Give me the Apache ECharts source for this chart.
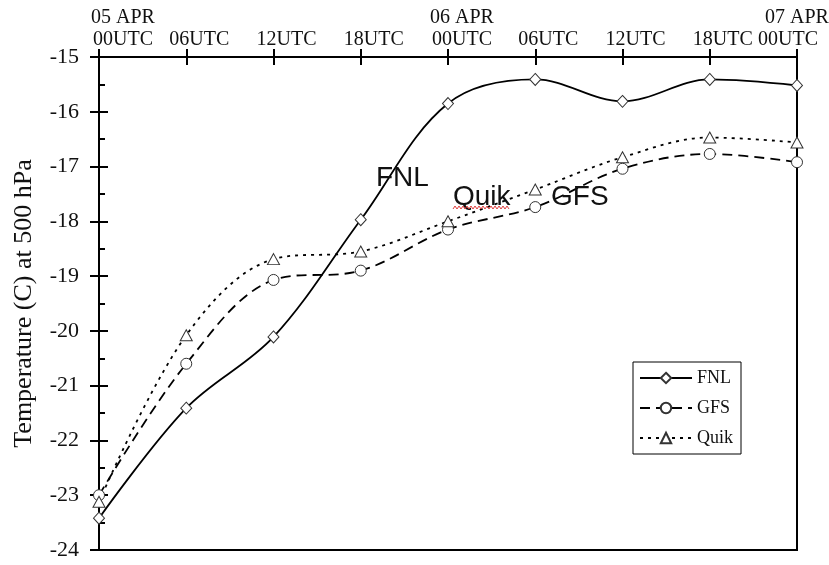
<!DOCTYPE html>
<html>
<head>
<meta charset="utf-8">
<script src="https://cdn.jsdelivr.net/npm/echarts@6/dist/echarts.min.js"></script>
<style>
html,body{margin:0;padding:0;background:#fff;}
#chart{width:829px;height:565px;}
</style>
</head>
<body>
<div id="chart"></div>
<script>
// ---- data ----
const timeLabels = ['05 APR\n00UTC','06UTC','12UTC','18UTC','06 APR\n00UTC','06UTC','12UTC','18UTC','07 APR\n00UTC'];
const fnlValues  = [-23.42, -21.41, -20.11, -17.97, -15.85, -15.41, -15.81, -15.41, -15.52];
const gfsValues  = [-23.00, -20.60, -19.07, -18.90, -18.15, -17.74, -17.04, -16.77, -16.92];
const quikValues = [-23.12, -20.08, -18.69, -18.55, -18.00, -17.42, -16.83, -16.47, -16.56];
const seriesNames = ['FNL', 'GFS', 'Quik'];
const yMin = -24, yMax = -15, yStep = 1;
const yTitle = 'Temperature (C) at 500 hPa';

const serif = 'Liberation Serif';
const chart = echarts.init(document.getElementById('chart'));

const labelBase = {fontFamily: serif, fontSize: 20, lineHeight: 22, color: '#111'};
function labelFmt(v, i) {
  const parts = v.split('\n');
  if (i === 0) return parts.map(p => '{f|' + p + '}').join('\n');
  if (i === timeLabels.length - 1) return '{l1|' + parts[0] + '}\n{l2|' + parts[1] + '}';
  if (parts.length === 2) return parts.map(p => '{d|' + p + '}').join('\n');
  return '{n|' + v + '}';
}

const markerStyle = {color: '#fff', borderColor: '#333', borderWidth: 1};

// red wavy underline (spell-check squiggle) under "Quik"
const wave = [];
for (let x = 453, k = 0; x <= 509; x += 2, k++) wave.push([x, k % 2 ? 206 : 209]);

chart.setOption({
  backgroundColor: '#fff',
  animation: false,
  grid: {left: 99, right: 32, top: 57, bottom: 15, show: true, borderColor: '#000', borderWidth: 2,
         containLabel: false, outerBoundsMode: 'none'},
  xAxis: [
    {
      type: 'category', position: 'top', boundaryGap: false, data: timeLabels,
      axisLine: {lineStyle: {color: '#000', width: 2}},
      axisTick: {show: true, length: 8, lineStyle: {color: '#000', width: 2}},
      axisLabel: {
        interval: 0, margin: 6, formatter: labelFmt, hideOverlap: false,
        rich: {
          n: Object.assign({padding: [0, 0, 0, 26]}, labelBase),
          f: Object.assign({padding: [0, 0, 0, 48]}, labelBase),
          d: Object.assign({padding: [0, 0, 0, 28]}, labelBase),
          l1: Object.assign({}, labelBase),
          l2: Object.assign({padding: [0, 18, 0, 0]}, labelBase)
        }
      },
      splitLine: {show: false}
    },
    {
      type: 'category', position: 'top', boundaryGap: false, data: timeLabels,
      axisLine: {show: false},
      axisTick: {show: true, inside: true, length: 8, lineStyle: {color: '#000', width: 2}},
      axisLabel: {show: false},
      splitLine: {show: false}
    }
  ],
  yAxis: [
    {
      type: 'value', min: yMin, max: yMax, interval: yStep, position: 'left',
      name: yTitle, nameLocation: 'middle', nameRotate: 90, nameGap: 62,
      nameTextStyle: {fontFamily: serif, fontSize: 26, color: '#111'},
      axisLine: {show: true, lineStyle: {color: '#000', width: 2}},
      axisTick: {show: true, length: 9, lineStyle: {color: '#000', width: 2}},
      axisLabel: {margin: 20, fontFamily: serif, fontSize: 22, color: '#111'},
      splitLine: {show: false}
    },
    {
      type: 'value', min: yMin, max: yMax, interval: yStep, position: 'left',
      axisLine: {show: false},
      axisTick: {show: true, inside: true, length: 9, lineStyle: {color: '#000', width: 2}},
      minorTick: {show: true, splitNumber: 2, length: 6, lineStyle: {color: '#000', width: 2}},
      axisLabel: {show: false},
      splitLine: {show: false}
    }
  ],
  legend: {
    data: seriesNames, orient: 'vertical', left: 633, top: 362,
    backgroundColor: '#fff', borderColor: '#000', borderWidth: 1,
    padding: [7, 8, 7, 6], itemWidth: 52, itemHeight: 13, itemGap: 12,
    textStyle: {fontFamily: serif, fontSize: 18, color: '#111'}
  },
  series: [
    {
      name: seriesNames[0], type: 'line', data: fnlValues, smooth: 0.35,
      symbol: 'diamond', symbolSize: [11, 12], itemStyle: markerStyle,
      lineStyle: {color: '#000', width: 1.8, type: 'solid'}, z: 3
    },
    {
      name: seriesNames[1], type: 'line', data: gfsValues, smooth: 0.35,
      symbol: 'circle', symbolSize: 11, itemStyle: markerStyle,
      lineStyle: {color: '#000', width: 1.8, type: [10, 6]}, z: 2
    },
    {
      name: seriesNames[2], type: 'line', data: quikValues, smooth: 0.35,
      symbol: 'triangle', symbolSize: [12, 11], itemStyle: markerStyle,
      lineStyle: {color: '#000', width: 1.8, type: [3, 5]}, z: 2
    }
  ],
  graphic: [
    {type: 'text', left: 376, top: 164, z: 10, style: {text: 'FNL', font: '28px "Liberation Sans"', fill: '#111'}},
    {type: 'text', left: 453, top: 183, z: 10, style: {text: 'Quik', font: '28px "Liberation Sans"', fill: '#111'}},
    {type: 'text', left: 551, top: 183, z: 10, style: {text: 'GFS', font: '28px "Liberation Sans"', fill: '#111'}},
    {type: 'polyline', z: 10, shape: {points: wave}, style: {stroke: '#e04040', lineWidth: 1, fill: null}}
  ]
});
</script>
</body>
</html>
